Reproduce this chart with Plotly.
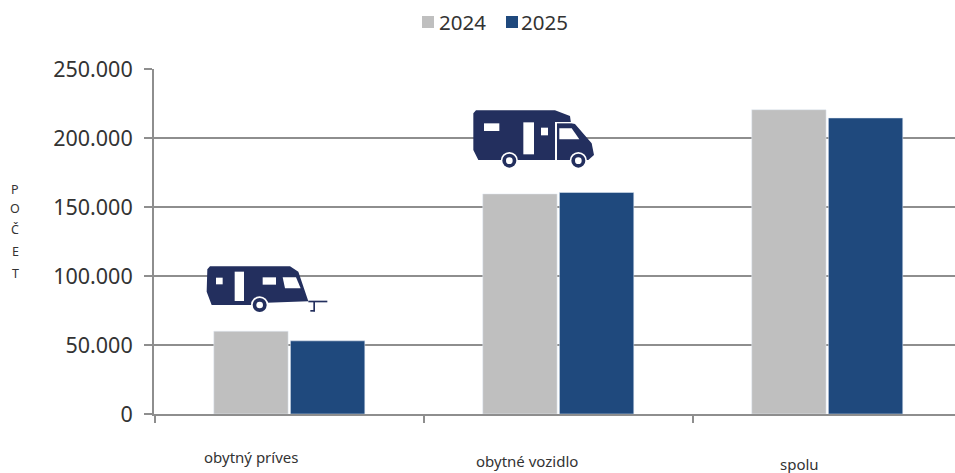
import plotly.graph_objects as go

categories = ["obytný príves", "obytné vozidlo", "spolu"]
series_names = ["2024", "2025"]
values_2024 = [60000, 159500, 220500]
values_2025 = [53000, 160500, 214500]
y_ticks = [0, 50000, 100000, 150000, 200000, 250000]
y_labels = ["0", "50.000", "100.000", "150.000", "200.000", "250.000"]
axis_letters = ["P", "O", "Č", "E", "T"]
label_tops = [457, 461, 463.5]
label_shifts = [-38, -31, -28]
letter_tops = [189, 208, 229, 251, 273]

W, H = 955, 473
L, T, B = 154, 69, 59
PW, PH = W - L, H - T - B
GRID = "#8e8e8e"
TXT = "#333333"
ICON = "#232f5e"
C24, C25 = "#bfbfbf", "#1f497d"
FONT = "Noto Sans"

fx = lambda px: (px - L) / PW
fy = lambda py: 1 - (py - T) / PH

fig = go.Figure()
fig.add_bar(name=series_names[0], x=categories, y=values_2024, marker_color=C24, showlegend=False)
fig.add_bar(name=series_names[1], x=categories, y=values_2025, marker_color=C25, showlegend=False)

shapes = []


def poly(pts, ox, oy, color):
    p = [(ox + x / 3, oy + y / 3) for x, y in pts]
    d = "M" + " L".join(f"{fx(a):.5f},{fy(b):.5f}" for a, b in p) + " Z"
    shapes.append(dict(type="path", xref="paper", yref="paper", path=d,
                       fillcolor=color, line=dict(width=0), layer="above"))


def rect(x0, y0, x1, y1, ox, oy, color):
    poly([(x0, y0), (x1, y0), (x1, y1), (x0, y1)], ox, oy, color)


def circ(cx, cy, r, ox, oy, color):
    px, py = ox + cx / 3, oy + cy / 3
    rr = r / 3
    shapes.append(dict(type="circle", xref="paper", yref="paper",
                       x0=fx(px - rr), x1=fx(px + rr), y0=fy(py + rr), y1=fy(py - rr),
                       fillcolor=color, line=dict(width=0), layer="above"))


def wheel(cx, cy, ox, oy):
    circ(cx, cy, 26, ox, oy, "white")
    circ(cx, cy, 21, ox, oy, ICON)
    circ(cx, cy, 10, ox, oy, "white")


# caravan icon
ox, oy = 190, 250
poly([(60, 49), (300, 49), (325, 65), (355, 154), (230, 158), (190, 165), (65, 165),
      (50, 125), (52, 58)], ox, oy, ICON)
rect(78, 83, 98, 103, ox, oy, "white")
rect(134, 65, 162, 153, ox, oy, "white")
rect(218, 82, 258, 104, ox, oy, "white")
poly([(278, 82), (318, 82), (332, 115), (285, 115)], ox, oy, "white")
wheel(209, 165, ox, oy)
rect(355, 152, 412, 157, ox, oy, ICON)
rect(370, 155, 375, 184, ox, oy, ICON)
rect(361, 180, 375, 185, ox, oy, ICON)

# motorhome icon
ox, oy = 460, 100
poly([(48, 31), (285, 31), (330, 48), (333, 70), (345, 72), (395, 130), (402, 165),
      (385, 180), (55, 180), (40, 150), (40, 40)], ox, oy, ICON)
rect(72, 70, 118, 93, ox, oy, "white")
rect(190, 67, 222, 163, ox, oy, "white")
rect(243, 83, 264, 106, ox, oy, "white")
rect(285, 68, 291, 180, ox, oy, "white")
rect(285, 66, 333, 70, ox, oy, "white")
poly([(298, 85), (335, 85), (358, 118), (298, 118)], ox, oy, "white")
wheel(148, 182, ox, oy)
wheel(355, 182, ox, oy)

annotations = []
for cat, top, shift in zip(categories, label_tops, label_shifts):
    annotations.append(dict(x=cat, xref="x", y=fy(top), yref="paper", text=cat, showarrow=False,
                            xanchor="center", yanchor="middle", xshift=shift,
                            font=dict(family=FONT, size=15, color=TXT)))
for letter, top in zip(axis_letters, letter_tops):
    annotations.append(dict(x=fx(15), xref="paper", y=fy(top), yref="paper", text=letter,
                            showarrow=False, xanchor="center", yanchor="middle",
                            font=dict(family=FONT, size=12.5, color=TXT)))

# legend
for name, color, sq, tx in zip(series_names, [C24, C25], [422, 506], [439, 521]):
    shapes.append(dict(type="rect", xref="paper", yref="paper",
                       x0=fx(sq), x1=fx(sq + 12), y0=fy(28), y1=fy(16),
                       fillcolor=color, line=dict(width=0), layer="above"))
    annotations.append(dict(x=fx(tx), xref="paper", y=fy(22), yref="paper", text=name,
                            showarrow=False, xanchor="left", yanchor="middle", xshift=-2,
                            font=dict(family=FONT, size=20.5, color=TXT)))

fig.update_layout(
    width=W, height=H, autosize=False,
    margin=dict(l=L, r=0, t=T, b=B, pad=0),
    paper_bgcolor="white", plot_bgcolor="white",
    barmode="group", bargap=0.43, bargroupgap=0.03,
    font=dict(family=FONT, color=TXT),
    showlegend=False,
    shapes=shapes, annotations=annotations,
    xaxis=dict(range=[-0.503, 2.475], tickson="boundaries", ticks="outside", ticklen=7, tickwidth=2,
               tickcolor=GRID, showticklabels=False, showline=True, linecolor=GRID, linewidth=2,
               showgrid=False, zeroline=False),
    yaxis=dict(range=[0, 250000], tickvals=y_ticks, ticktext=y_labels, ticks="outside", ticklen=8,
               tickwidth=2, tickcolor=GRID, showline=True, linecolor=GRID, linewidth=2,
               gridcolor=GRID, gridwidth=2, zeroline=False, ticklabelstandoff=7,
               tickfont=dict(family=FONT, size=21.5, color=TXT)),
)

fig.write_html("out.html", config={"displayModeBar": False},
               post_script="document.body.style.margin='0';document.documentElement.style.overflow='hidden';")
